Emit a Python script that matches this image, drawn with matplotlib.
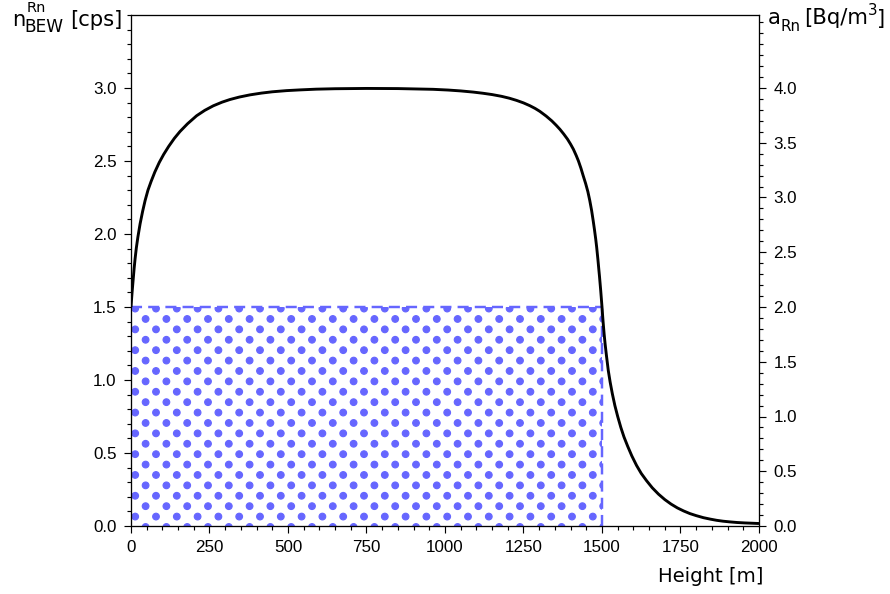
import numpy as np
import matplotlib
matplotlib.use("Agg")
import matplotlib.pyplot as plt
import matplotlib.hatch as mhatch
from matplotlib.path import Path
from matplotlib.ticker import MultipleLocator, FormatStrFormatter

# ---------------- data ----------------
height_m = [0, 2, 4, 7, 10, 13, 17, 22, 29, 37, 45, 54, 64, 76, 90, 104, 120,
            138, 156, 180, 209, 235, 262, 290, 315, 345, 379, 415, 450, 495,
            538, 590, 650, 750, 850, 962, 1010, 1050, 1090, 1121, 1150, 1180,
            1205, 1228, 1250, 1270, 1287, 1302, 1322, 1340, 1354, 1366, 1378,
            1390, 1400, 1409, 1418, 1425, 1433, 1440, 1448, 1455, 1461, 1467,
            1472, 1476, 1480, 1483, 1487, 1490, 1492, 1494, 1496, 1498, 1500,
            1502, 1504, 1507, 1510, 1514, 1520, 1526, 1533, 1541, 1550, 1560,
            1570, 1582, 1595, 1610, 1625, 1642, 1660, 1680, 1700, 1720, 1740,
            1760, 1780, 1800, 1823, 1845, 1865, 1885, 1908, 1930, 1955, 1978,
            2000]
n_rn_cps = [1.50, 1.56, 1.615, 1.69, 1.765, 1.83, 1.905, 1.98, 2.07, 2.155,
            2.23, 2.30, 2.36, 2.425, 2.49, 2.545, 2.60, 2.655, 2.702, 2.755,
            2.81, 2.847, 2.878, 2.903, 2.921, 2.938, 2.953, 2.965, 2.974,
            2.982, 2.987, 2.992, 2.995, 2.997, 2.996, 2.991, 2.986, 2.98,
            2.972, 2.964, 2.955, 2.943, 2.93, 2.915, 2.898, 2.879, 2.86, 2.84,
            2.808, 2.775, 2.745, 2.717, 2.685, 2.65, 2.615, 2.58, 2.537, 2.50,
            2.45, 2.40, 2.345, 2.29, 2.23, 2.16, 2.09, 2.03, 1.965, 1.91,
            1.825, 1.755, 1.71, 1.66, 1.61, 1.555, 1.50, 1.44, 1.385, 1.31,
            1.245, 1.17, 1.065, 0.985, 0.905, 0.825, 0.75, 0.675, 0.61, 0.545,
            0.48, 0.415, 0.36, 0.31, 0.262, 0.218, 0.181, 0.15, 0.124, 0.103,
            0.085, 0.071, 0.057, 0.047, 0.039, 0.033, 0.028, 0.024, 0.021,
            0.019, 0.017]

layer_start_m = 0
layer_top_m = 1500
layer_cps = 1.5

x_ticks = [0, 250, 500, 750, 1000, 1250, 1500, 1750, 2000]
left_ticks = [0.0, 0.5, 1.0, 1.5, 2.0, 2.5, 3.0]
right_ticks = [0.0, 0.5, 1.0, 1.5, 2.0, 2.5, 3.0, 3.5, 4.0]
cps_max = 3.5
cps_to_bq = 4.0 / 3.0

# ---------------- custom dot fill pattern ----------------
class OffsetDotLattice(mhatch.HatchPatternBase):
    n_cols = 5
    n_rows = 10
    radius = 0.032
    y_shift = -0.067

    def __init__(self, hatch, density):
        circ = Path.unit_circle()
        self._v = circ.vertices * self.radius
        self._c = circ.codes
        centers = []
        if '.' in hatch:
            for r in range(-2, self.n_rows + 3):
                yy = r / self.n_rows + self.y_shift
                if r % 2 == 0:
                    xs = np.arange(-1, self.n_cols + 2) / self.n_cols
                else:
                    xs = (np.arange(-1, self.n_cols + 1) + 0.5) / self.n_cols
                centers += [(xx, yy) for xx in xs]
        self._centers = centers
        self.num_vertices = len(centers) * len(self._v)

    def set_vertices_and_codes(self, vertices, codes):
        n = len(self._v)
        for i, (cx, cy) in enumerate(self._centers):
            vertices[i * n:(i + 1) * n] = self._v + [cx, cy]
            codes[i * n:(i + 1) * n] = self._c


mhatch._hatch_types = [t for t in mhatch._hatch_types
                       if t is not mhatch.SmallFilledCircles] + [OffsetDotLattice]

# ---------------- style ----------------
plt.rcParams['font.family'] = ['Liberation Sans', 'DejaVu Sans']
plt.rcParams['hatch.linewidth'] = 0.8

DPI = 104
W, H = 891, 594
fig = plt.figure(figsize=(W / DPI, H / DPI), dpi=DPI)
ax = fig.add_axes([131 / W, 1 - 526 / H, 628 / W, 511 / H])
ax2 = ax.twinx()

dot_color = '#6666ff'

# filled layer (dot pattern) with dashed outline on top and right
ax.bar([layer_start_m], [layer_cps], width=layer_top_m - layer_start_m,
       align='edge', facecolor='none', edgecolor=dot_color, linewidth=0,
       hatch='.', zorder=1)
ax.hlines(layer_cps, layer_start_m, layer_top_m, colors=dot_color,
          linewidth=1.7, linestyles=(0, (4.5, 2.5)), zorder=1.5)
ax.vlines(layer_top_m, 0, layer_cps, colors=dot_color,
          linewidth=1.7, linestyles=(0, (4.5, 2.5)), zorder=1.5)

ax.plot(height_m, n_rn_cps, color='black', linewidth=2.0, zorder=3,
        solid_joinstyle='round', solid_capstyle='butt')

ax.set_xlim(0, 2000)
ax.set_ylim(0, cps_max)
ax2.set_ylim(0, cps_max * cps_to_bq)

ax.set_xticks(x_ticks)
ax.set_xticklabels([str(v) for v in x_ticks])
ax.xaxis.set_minor_locator(MultipleLocator(50))
ax.set_yticks(left_ticks)
ax.yaxis.set_major_formatter(FormatStrFormatter('%.1f'))
ax.yaxis.set_minor_locator(MultipleLocator(0.1))
ax2.set_yticks(right_ticks)
ax2.yaxis.set_major_formatter(FormatStrFormatter('%.1f'))
ax2.yaxis.set_minor_locator(MultipleLocator(0.1))

for a in (ax, ax2):
    for s in a.spines.values():
        s.set_linewidth(0.8)
        s.set_color('black')
    a.tick_params(which='major', direction='out', length=5, width=0.8,
                  labelsize=11.8, pad=5, color='black')
    a.tick_params(which='minor', direction='out', length=3, width=0.8,
                  color='black')
ax.tick_params(axis='y', which='both', right=False)
ax.tick_params(axis='x', which='both', top=False)

renderer = fig.canvas.get_renderer()
LABEL_FONT = 'DejaVu Sans'
TOP_BIG = 14.6
XLAB = 13.6


def ptext(x_px, y_px_top, s, size, ha='left'):
    t = fig.text(x_px / W, 1 - y_px_top / H, s, ha=ha, va='baseline',
                 fontsize=size, family=LABEL_FONT)
    return t


def right_end(t):
    return t.get_window_extent(renderer).x1


# left axis label: n (sub BEW, super Rn) [cps]
t_n = ptext(12, 26.5, 'n', TOP_BIG)
x_n = right_end(t_n)
t_sup = ptext(x_n + 1.5, 12.3, 'Rn', 10.0)
t_sub = ptext(x_n - 0.5, 32, 'BEW', 11.8)
ptext(max(right_end(t_sup), right_end(t_sub)) + 6, 26.5, '[cps]', TOP_BIG)

# right axis label: a (sub Rn) [Bq/m^3]
t_a = ptext(768, 24.5, 'a', TOP_BIG)
t_rn = ptext(right_end(t_a) - 0.5, 31, 'Rn', 10.5)
t_unit = ptext(right_end(t_rn) + 4, 24.5, '[Bq/m', TOP_BIG)
t_3 = ptext(right_end(t_unit) - 0.5, 15, '3', 10.5)
ptext(right_end(t_3) - 0.5, 24.5, ']', TOP_BIG)

# x axis label
ptext(763, 582, 'Height [m]', XLAB, ha='right')

fig.savefig('out.png', dpi=DPI)
